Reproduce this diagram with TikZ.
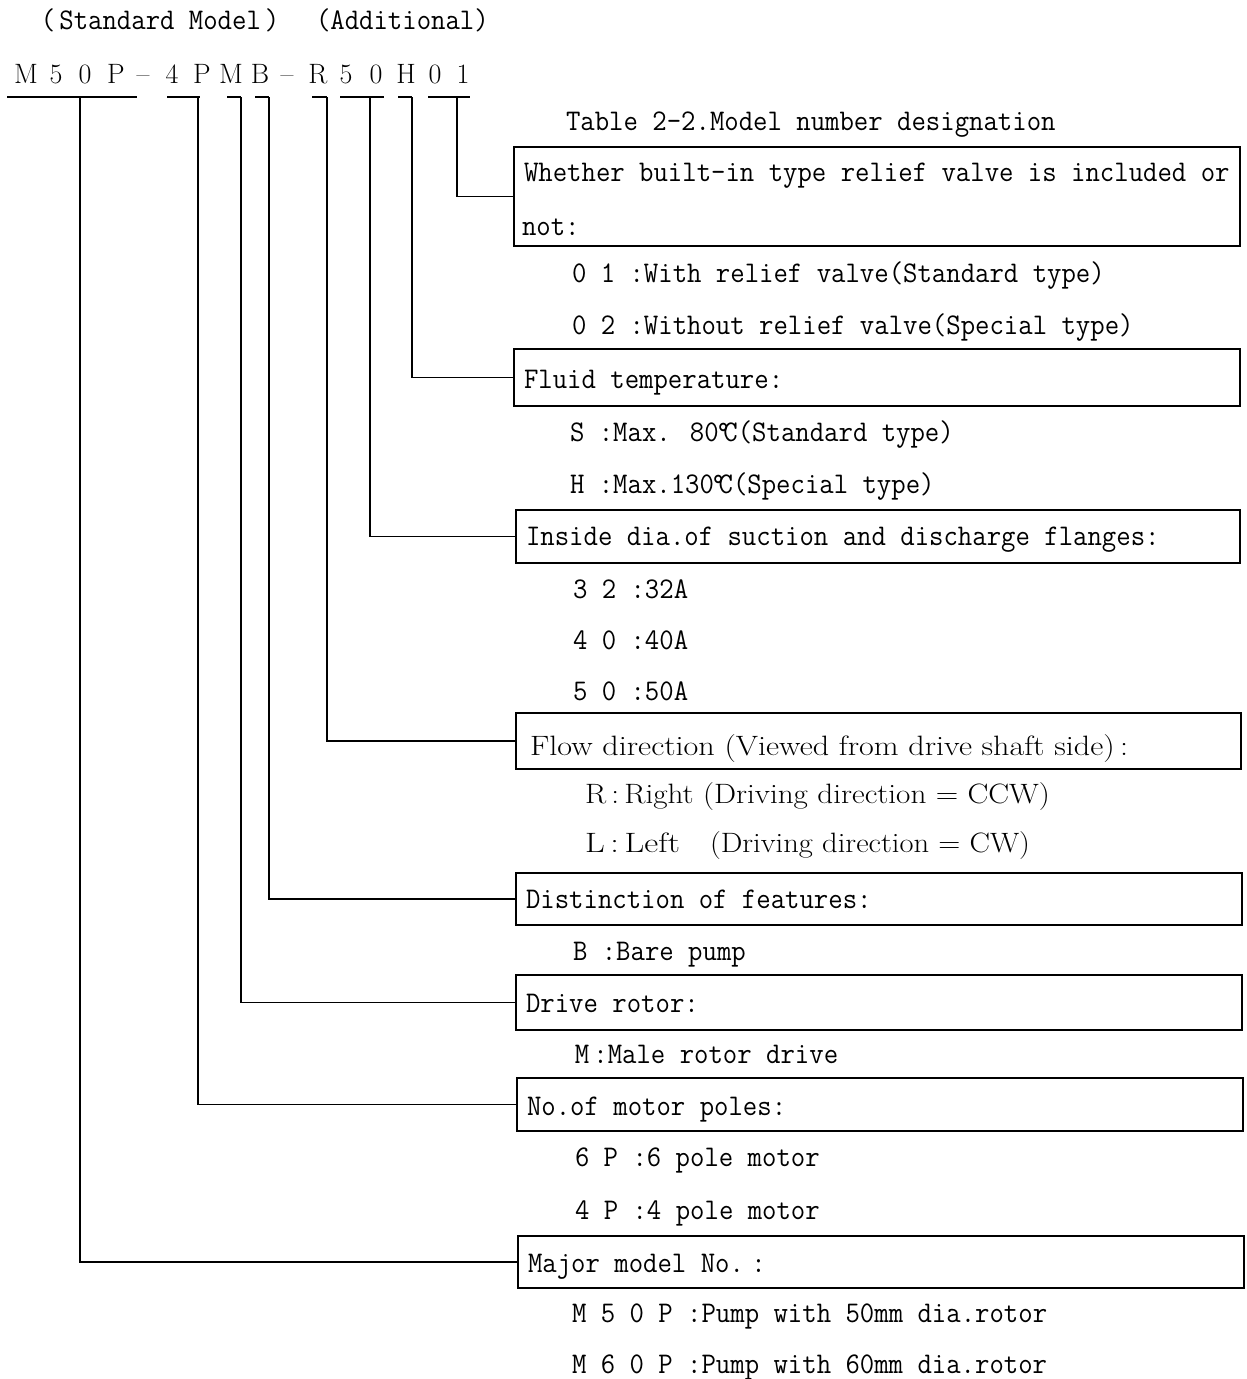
\documentclass[tikz,border=0pt]{standalone}
\usepackage{graphicx}
\newcommand{\mtfont}{\fontsize{30}{36}\selectfont\ttfamily}
\newcommand{\fw}[1]{\makebox[1.05em][c]{#1}}
\newcommand{\pw}[1]{\makebox[0.8em][c]{#1}}
\newcommand{\mono}[1]{\scalebox{0.932}[1]{\mtfont #1}}
\newcommand{\rmtxt}[2]{\resizebox{#1}{\height}{\fontsize{28}{34}\selectfont #2}}
\begin{document}
\begin{tikzpicture}[x=1pt,y=-1pt,
  every node/.style={inner sep=0pt,outer sep=0pt},
  mt/.style={anchor=base west},
  big/.style={anchor=base,font=\fontsize{28}{33}\selectfont},
  ln/.style={line width=1.6pt},
  bx/.style={draw,line width=1.6pt,anchor=north west}]
\useasboundingbox[fill=white] (0,0) rectangle (1247,1379);

% header
\node[mt] (hs) at (37,29) {\mono{\pw{(}Standard Model\pw{)}}};
\node[mt] (ha) at (316,29) {\mono{(Additional)}};

% model string
\foreach \c/\x [count=\i] in {M/26,5/56,0/85,P/116,{--}/143,4/172,P/202,M/231,B/260,{--}/287,R/318,5/346,0/376,H/406,0/435,1/463}
  \node[big] (t\i) at (\x,83) {\c};

% underline coordinates
\coordinate (a1) at (7,97);   \coordinate (b1) at (137,97); \coordinate (u1) at (80,97);
\coordinate (a2) at (167,97); \coordinate (b2) at (200,97); \coordinate (u2) at (198,97);
\coordinate (a3) at (227,97); \coordinate (b3) at (241,97); \coordinate (u3) at (241,97);
\coordinate (a4) at (255,97); \coordinate (b4) at (269,97); \coordinate (u4) at (269,97);
\coordinate (a5) at (312,97); \coordinate (b5) at (327,97); \coordinate (u5) at (327,97);
\coordinate (a6) at (340,97); \coordinate (b6) at (384,97); \coordinate (u6) at (370,97);
\coordinate (a7) at (398,97); \coordinate (b7) at (412,97); \coordinate (u7) at (412,97);
\coordinate (a8) at (428,97); \coordinate (b8) at (470,97); \coordinate (u8) at (457,97);
\foreach \i in {1,...,8} \draw[ln] (a\i) -- (b\i);

% title
\node[mt] (title) at (566,130) {\mono{Table 2-2.Model number designation}};

% boxes
\node[bx,minimum width=726pt,minimum height=99pt] (B1) at (514,147) {};
\node[bx,minimum width=726pt,minimum height=57pt] (B2) at (514,349) {};
\node[bx,minimum width=724pt,minimum height=53pt] (B3) at (516,510) {};
\node[bx,minimum width=725pt,minimum height=56pt] (B4) at (516,713) {};
\node[bx,minimum width=726pt,minimum height=52pt] (B5) at (516,873) {};
\node[bx,minimum width=726pt,minimum height=55pt] (B6) at (516,975) {};
\node[bx,minimum width=726pt,minimum height=53pt] (B7) at (517,1078) {};
\node[bx,minimum width=726pt,minimum height=52pt] (B8) at (518,1236) {};

% connectors
\draw[ln] (u8) |- (B1.west);
\draw[ln] (u7) |- (B2.west);
\draw[ln] (u6) |- (B3.west);
\draw[ln] (u5) |- (B4.west);
\draw[ln] (u4) |- (B5.west);
\draw[ln] (u3) |- (B6.west);
\draw[ln] (u2) |- (B7.west);
\draw[ln] (u1) |- (B8.west);

% box 1
\node[mt] (x11) at (524,181) {\mono{Whether built-in type relief valve is included or}};
\node[mt] (x12) at (522,235) {\mono{not:}};
\node[mt] (o11) at (572,282) {\mono{0 1 :With relief valve(Standard type)}};
\node[mt] (o12) at (572,334) {\mono{0 2 :Without relief valve(Special type)}};
% box 2
\node[mt] (x2) at (524,388) {\mono{Fluid temperature:}};
\node[mt] (o21) at (570,441) {\mono{S :Max. 80\kern-.1em°\kern-.25em C(Standard type)}};
\node[mt] (o22) at (570,493) {\mono{H :Max.130\kern-.1em°\kern-.25em C(Special type)}};
% box 3
\node[mt] (x3) at (526,545) {\mono{Inside dia.of suction and discharge flanges:}};
\node[mt] (o31) at (573,598) {\mono{3 2 :32A}};
\node[mt] (o32) at (573,649) {\mono{4 0 :40A}};
\node[mt] (o33) at (573,700) {\mono{5 0 :50A}};
% box 4
\node[mt] (x4) at (530,755) {\rmtxt{598pt}{Flow direction (Viewed from drive shaft side)\,:}};
\node[mt] (o41) at (585,803) {\rmtxt{465pt}{R\,:\,Right (Driving direction = CCW)}};
\node[mt] (o42a) at (585,852) {\rmtxt{95pt}{L\,:\,Left}};
\node[mt] (o42b) at (710,852) {\rmtxt{320pt}{(Driving direction = CW)}};
% box 5
\node[mt] (x5) at (526,908) {\mono{Distinction of features:}};
\node[mt] (o51) at (573,960) {\mono{B :Bare pump}};
% box 6
\node[mt] (x6) at (526,1012) {\mono{Drive rotor:}};
\node[mt] (o61) at (571,1063) {\mono{\pw{M}:Male rotor drive}};
% box 7
\node[mt] (x7) at (527,1115) {\mono{No.of motor poles:}};
\node[mt] (o71) at (575,1166) {\mono{6 P :6 pole motor}};
\node[mt] (o72) at (575,1219) {\mono{4 P :4 pole motor}};
% box 8
\node[mt] (x8) at (528,1272) {\mono{Major model No.\fw{:}}};
\node[mt] (o81) at (572,1322) {\mono{M 5 0 P :Pump with 50mm dia.rotor}};
\node[mt] (o82) at (572,1373) {\mono{M 6 0 P :Pump with 60mm dia.rotor}};
\end{tikzpicture}
\end{document}
